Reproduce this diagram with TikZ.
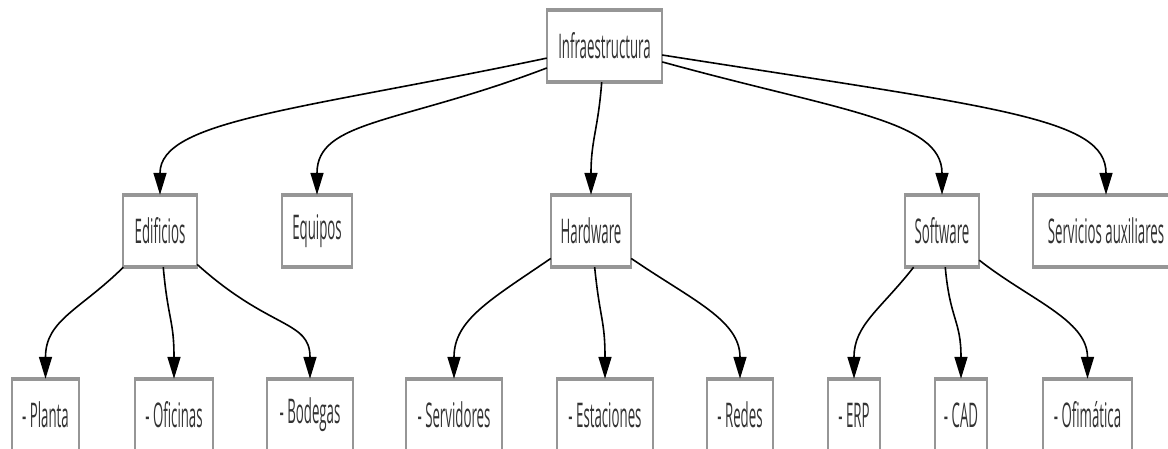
\documentclass[tikz,border=0pt]{standalone}
\usepackage{fontspec}
\usetikzlibrary{arrows.meta}
\newfontfamily\boxfont[FakeStretch=0.39]{Open Sans}
\definecolor{bordergray}{RGB}{150,150,150}
\definecolor{txt}{RGB}{51,51,51}
\tikzset{
  vside/.style={draw=bordergray, line width=1.6pt},
  hside/.style={draw=bordergray, line width=3.5pt, shorten <=-0.8pt, shorten >=-0.8pt},
  box/.style={fill=white, inner sep=0pt, minimum height=72pt, text=txt,
    font=\boxfont\fontsize{34}{36}\selectfont,
    append after command={
      (\tikzlastnode.north west) edge[vside] (\tikzlastnode.south west)
      (\tikzlastnode.north east) edge[vside] (\tikzlastnode.south east)
      (\tikzlastnode.north west) edge[hside] (\tikzlastnode.north east)
      (\tikzlastnode.south west) edge[hside] (\tikzlastnode.south east)
    }},
  link/.style={draw=black, line width=1.6pt, -{Triangle[length=22pt, width=13pt]}}
}
\begin{document}
\begin{tikzpicture}[x=1pt, y=-1pt]
  \useasboundingbox[fill=white] (0,0) rectangle (1168,448);
  \clip (0,0) rectangle (1168,448);

  % root
  \node[box, minimum width=115pt] (inf) at (604.5,46) {Infraestructura};

  % second level
  \node[box, minimum width=74pt]  (edi) at (160,231)  {Edificios};
  \node[box, minimum width=70pt]  (equ) at (317,231)  {Equipos};
  \node[box, minimum width=80pt]  (har) at (591,231)  {Hardware};
  \node[box, minimum width=74pt]  (sof) at (942,231)  {Software};
  \node[box, minimum width=146pt] (aux) at (1106,231) {Servicios auxiliares};

  % third level
  \node[box, minimum width=67pt] (pla) at (45.5,415)  {- Planta};
  \node[box, minimum width=78pt] (ofi) at (174,415)   {- Oficinas};
  \node[box, minimum width=86pt] (bod) at (310,415)   {- Bodegas};
  \node[box, minimum width=96pt] (srv) at (454,415)   {- Servidores};
  \node[box, minimum width=96pt] (est) at (605,415)   {- Estaciones};
  \node[box, minimum width=66pt] (red) at (740,415)   {- Redes};
  \node[box, minimum width=52pt] (erp) at (854,415)   {- ERP};
  \node[box, minimum width=52pt] (cad) at (961,415)   {- CAD};
  \node[box, minimum width=89pt] (ofm) at (1087.5,415) {- Ofimática};

  % root to second level
  \draw[link] (inf) .. controls (300,110) and (160,120) .. (edi);
  \draw[link] (inf) .. controls (400,124) and (317,120) .. (equ);
  \draw[link] (inf) .. controls (598,130) and (591,140) .. (har);
  \draw[link] (inf) .. controls (840,111) and (942,120) .. (sof);
  \draw[link] (inf) .. controls (1000,108) and (1106,118) .. (aux);

  % Edificios
  \draw[link] (edi) .. controls (80,310) and (45.5,320) .. (pla);
  \draw[link] (edi) .. controls (168,320) and (174,320) .. (ofi);
  \draw[link] (edi) .. controls (270,330) and (310,320) .. (bod);

  % Hardware
  \draw[link] (har) .. controls (490,300) and (454,320) .. (srv);
  \draw[link] (har) .. controls (600,320) and (605,320) .. (est);
  \draw[link] (har) .. controls (692,300) and (740,320) .. (red);

  % Software
  \draw[link] (sof) .. controls (880,310) and (854,325) .. (erp);
  \draw[link] (sof) .. controls (950,320) and (961,320) .. (cad);
  \draw[link] (sof) .. controls (1030,300) and (1087.5,320) .. (ofm);
\end{tikzpicture}
\end{document}
